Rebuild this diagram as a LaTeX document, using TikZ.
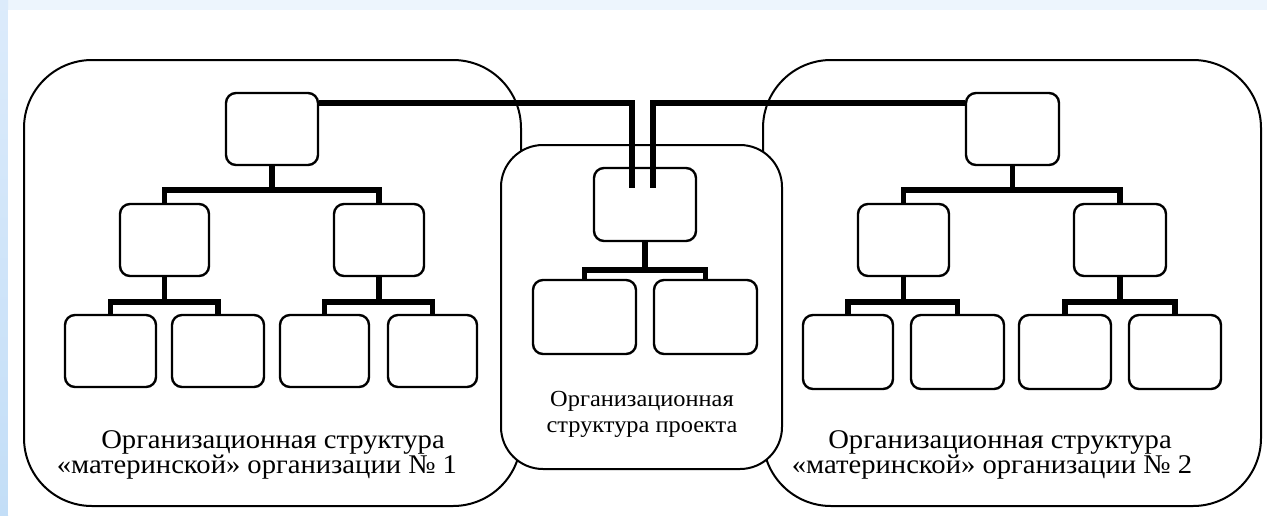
\documentclass[tikz,border=0pt]{standalone}
\usepackage{fontspec}
\setmainfont{Liberation Serif}
\newfontfamily\capfont[FakeStretch=1.06]{Liberation Serif}
\definecolor{stripA}{HTML}{DCEBFB}
\definecolor{stripB}{HTML}{C3DEF7}
\definecolor{stripTop}{HTML}{EDF5FD}
\begin{document}
\begin{tikzpicture}[x=1pt,y=-1pt,
  box/.style={draw, line width=2.4pt, rounded corners=10pt, inner sep=0pt, fill=white},
  big/.style={draw, line width=2pt, rounded corners=68pt, inner sep=0pt},
  bar/.style={line width=5.5pt, line join=miter},
  link/.style={line width=6pt, line join=miter},
  ttl/.style={font=\capfont\fontsize{27}{32}\selectfont, inner sep=0pt, anchor=base},
  mttl/.style={font=\capfont\fontsize{23}{27}\selectfont, inner sep=0pt, anchor=base}]
\useasboundingbox (0,0) rectangle (1267,515);
% background
\fill[stripTop] (0,0) rectangle (1267,515);
\shade[top color=stripA, bottom color=stripB] (0,0) rectangle (8,515);
\fill[white] (8,10) rectangle (1267,515);

% big containers
\node[big, minimum width=497pt, minimum height=446pt] (Lbox) at (272.5,283) {};
\node[big, minimum width=498pt, minimum height=446pt] (Rbox) at (1012,283) {};
\node[big, fill=white, rounded corners=42pt, minimum width=281pt, minimum height=324pt] (Mbox) at (641.5,307) {};

% left tree
\node[box, minimum width=92pt, minimum height=72pt] (L0) at (272,129) {};
\node[box, minimum width=89pt, minimum height=72pt] (L1a) at (164.5,240) {};
\node[box, minimum width=90pt, minimum height=72pt] (L1b) at (379,240) {};
\node[box, minimum width=91pt, minimum height=72pt] (L2a) at (110.5,351) {};
\node[box, minimum width=92pt, minimum height=72pt] (L2b) at (218,351) {};
\node[box, minimum width=89pt, minimum height=72pt] (L2c) at (324.5,351) {};
\node[box, minimum width=89pt, minimum height=72pt] (L2d) at (432.5,351) {};

% right tree
\node[box, minimum width=93pt, minimum height=72pt] (R0) at (1012.5,129) {};
\node[box, minimum width=91pt, minimum height=72pt] (R1a) at (903.5,240) {};
\node[box, minimum width=92pt, minimum height=72pt] (R1b) at (1120,240) {};
\node[box, minimum width=90pt, minimum height=74pt] (R2a) at (848,352) {};
\node[box, minimum width=93pt, minimum height=74pt] (R2b) at (957.5,352) {};
\node[box, minimum width=92pt, minimum height=74pt] (R2c) at (1065,352) {};
\node[box, minimum width=92pt, minimum height=74pt] (R2d) at (1175,352) {};

% middle tree
\node[box, minimum width=102pt, minimum height=73pt] (M0) at (645,204.5) {};
\node[box, minimum width=103pt, minimum height=74pt] (M1a) at (584.5,317) {};
\node[box, minimum width=103pt, minimum height=74pt] (M1b) at (705.5,317) {};

% bar junctions
\coordinate (lj0) at (272,190);
\coordinate (lja) at (164.5,302);
\coordinate (ljb) at (379,302);
\coordinate (rj0) at (1012.5,190);
\coordinate (rja) at (903.5,302);
\coordinate (rjb) at (1120,302);
\coordinate (mj0) at (645,270);

\draw[bar] (L0.south) -- (lj0);
\draw[bar] (L1a.north) |- (lj0) -| (L1b.north);
\draw[bar] (L1a.south) -- (lja);
\draw[bar] (L2a.north) |- (lja) -| (L2b.north);
\draw[bar] (L1b.south) -- (ljb);
\draw[bar] (L2c.north) |- (ljb) -| (L2d.north);

\draw[bar] (R0.south) -- (rj0);
\draw[bar] (R1a.north) |- (rj0) -| (R1b.north);
\draw[bar] (R1a.south) -- (rja);
\draw[bar] (R2a.north) |- (rja) -| (R2b.north);
\draw[bar] (R1b.south) -- (rjb);
\draw[bar] (R2c.north) |- (rjb) -| (R2d.north);

\draw[bar] (M0.south) -- (mj0);
\draw[bar] (M1a.north) |- (mj0) -| (M1b.north);

% links to project structure
\coordinate (ly) at (0,103);
\coordinate (cL) at (632,188);
\coordinate (cR) at (653,188);
\draw[link] (L0.east |- ly) -| (cL);
\draw[link] (R0.west |- ly) -| (cR);

% titles
\node[ttl] (t1a) at (273,448) {Организационная структура};
\node[ttl] (t1b) at (257,473) {«материнской» организации № 1};
\node[ttl] (t2a) at (1000,448) {Организационная структура};
\node[ttl] (t2b) at (992,473) {«материнской» организации № 2};
\node[mttl] (tma) at (642,406) {Организационная};
\node[mttl] (tmb) at (642,432) {структура проекта};
\end{tikzpicture}
\end{document}
